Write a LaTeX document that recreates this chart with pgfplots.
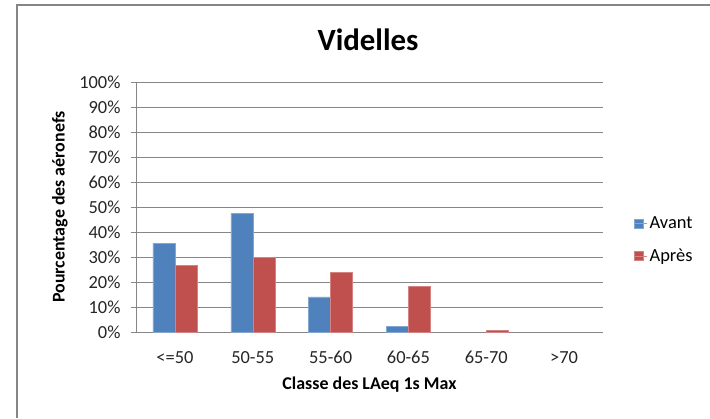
\documentclass[border=0pt]{standalone}
\usepackage{pgfplots}
\pgfplotsset{compat=1.18}
\usepackage{fontspec}
\setmainfont{Carlito}
\definecolor{avant}{HTML}{4F81BD}
\definecolor{apres}{HTML}{C0504D}
\definecolor{gridc}{HTML}{868686}
\begin{document}
\begin{tikzpicture}[x=1bp,y=1bp]
\useasboundingbox (0,0) rectangle (710,418);
\fill[white] (0,0) rectangle (710,418);
\draw[gridc, line width=1.5bp] (17,0) -- (17,413) -- (710,413);
\node[font=\bfseries\fontsize{31}{36}\selectfont] at (368,378) {Videlles};
\begin{axis}[
  at={(136bp,86bp)}, anchor=south west,
  scale only axis, width=467bp, height=250bp,
  ymin=0, ymax=100, ytick={0,10,...,100},
  yticklabel={\pgfmathprintnumber{\tick}\%},
  xmin=-0.5, xmax=5.5,
  xtick={0,1,2,3,4,5},
  xticklabels={<=50,50-55,55-60,60-65,65-70,>70},
  minor xtick={-0.5,0.5,...,5.5},
  tick align=outside,
  major tick length=5bp, minor tick length=5bp,
  xtick style={draw=none},
  minor tick style={gridc},
  ytick style={gridc},
  axis x line*=bottom, axis y line*=left,
  axis line style={gridc, -},
  ymajorgrids, grid style={gridc, line width=0.8bp},
  tick label style={font=\fontsize{18.5}{20}\selectfont, text=black!85},
  /pgf/number format/assume math mode=true,
  xticklabel style={yshift=-11bp},
  yticklabel style={xshift=-7bp},
  ylabel={Pourcentage des aéronefs},
  xlabel={Classe des LAeq 1s Max},
  label style={font=\bfseries\fontsize{18}{20}\selectfont},
  ylabel style={at={(axis description cs:-0.163,0.5)}, anchor=center},
  xlabel style={at={(axis description cs:0.5,-0.21)}, anchor=center},
  ybar, bar width=22bp,
  legend style={at={(rel axis cs:1.06,0.368)}, anchor=west, draw=none,
    font=\fontsize{18.5}{20}\selectfont, row sep=15bp, fill=none},
  legend cell align=left,
  legend image code/.code={\fill[#1] (0bp,-4.5bp) rectangle (9bp,4.5bp); \path (0bp,0bp) -- (13bp,0bp);},
]
\addplot[fill=avant, draw=avant!70!white, bar shift=-11bp] coordinates {(0,35.6) (1,47.4) (2,14.1) (3,2.3)};
\addplot[fill=apres, draw=apres!70!white, bar shift=11bp] coordinates {(0,26.7) (1,30.0) (2,23.9) (3,18.2) (4,0.8)};
\legend{Avant,Après}
\end{axis}
\end{tikzpicture}
\end{document}
